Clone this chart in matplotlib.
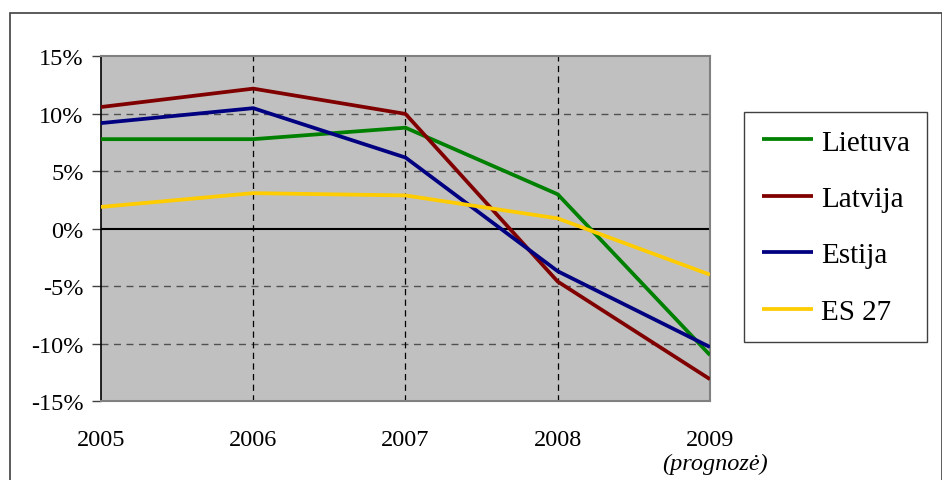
"""BVP pokytis: Lietuva, Latvija, Estija ir ES 27, 2005-2009."""
import matplotlib
matplotlib.use("Agg")
from matplotlib import pyplot as pl
import matplotlib.patches as mpatches
import matplotlib.transforms as mtrans

pl.rcParams["font.family"] = ["Liberation Serif", "DejaVu Serif"]

years = [2005, 2006, 2007, 2008, 2009]
year_labels = ["2005", "2006", "2007", "2008", "2009"]
lietuva = [7.8, 7.8, 8.8, 3.0, -11.0]
latvija = [10.6, 12.2, 10.0, -4.6, -13.1]
estija = [9.2, 10.5, 6.2, -3.7, -10.3]
es27 = [1.9, 3.1, 2.9, 0.9, -4.0]
series = [("Lietuva", lietuva, "#008000"),
          ("Latvija", latvija, "#800000"),
          ("Estija", estija, "#000080"),
          ("ES 27", es27, "#FFCC00")]
yticks = [-15, -10, -5, 0, 5, 10, 15]

fig = pl.figure(figsize=(9.42, 4.81), dpi=100)
ax = fig.add_axes([0.1072, 0.1642, 0.6465, 0.7163])
ax.set_facecolor("#C0C0C0")

# Grid
for y in [-10, -5, 5, 10]:
    ax.axhline(y, color="#505050", lw=1.0, ls=(0, (5, 4)), zorder=1)
for x in years[1:-1]:
    ax.axvline(x, color="black", lw=0.9, ls=(0, (5, 3.5)), zorder=1)
ax.axhline(0, color="black", lw=1.5, zorder=2)

for name, vals, col in series:
    ax.plot(years, vals, color=col, lw=2.7, label=name, zorder=3,
            solid_capstyle="butt")

ax.set_xlim(2005, 2009)
ax.set_ylim(-15, 15)
ax.set_yticks(yticks)
ax.set_yticklabels(["{}%".format(v) for v in yticks], fontsize=17.5)
ax.set_xticks(years)
ax.set_xticklabels(year_labels, fontsize=17.5)
ax.tick_params(axis="x", length=0, pad=20)
ax.tick_params(axis="y", length=6.5, width=1.0, color="#404040", pad=6)

for s in ["top", "right", "bottom"]:
    ax.spines[s].set_color("#808080")
    ax.spines[s].set_linewidth(1.5)
ax.spines["left"].set_color("black")
ax.spines["left"].set_linewidth(1.2)

trans = mtrans.blended_transform_factory(ax.transData, ax.transAxes)
ax.text(2009.03, -0.18, "(prognozė)", transform=trans, fontsize=17.5,
        style="italic", ha="center", va="center")

leg = ax.legend(loc="upper left", bbox_to_anchor=(1.056, 0.84),
                borderaxespad=0., fontsize=21, handlelength=1.75,
                handletextpad=0.28, labelspacing=1.03, borderpad=0.6,
                fancybox=False, framealpha=1, edgecolor="#404040")
leg.get_frame().set_linewidth(1.0)

# Outer frame of the chart
frame = mpatches.Rectangle((9.5 / 942, -0.1), 932 / 942, 1 - 14 / 481 + 0.1,
                           transform=fig.transFigure, fill=False,
                           edgecolor="#404040", lw=1.2, clip_on=False)
fig.patches.append(frame)

pl.savefig("out.png", dpi=100)
pl.close()
